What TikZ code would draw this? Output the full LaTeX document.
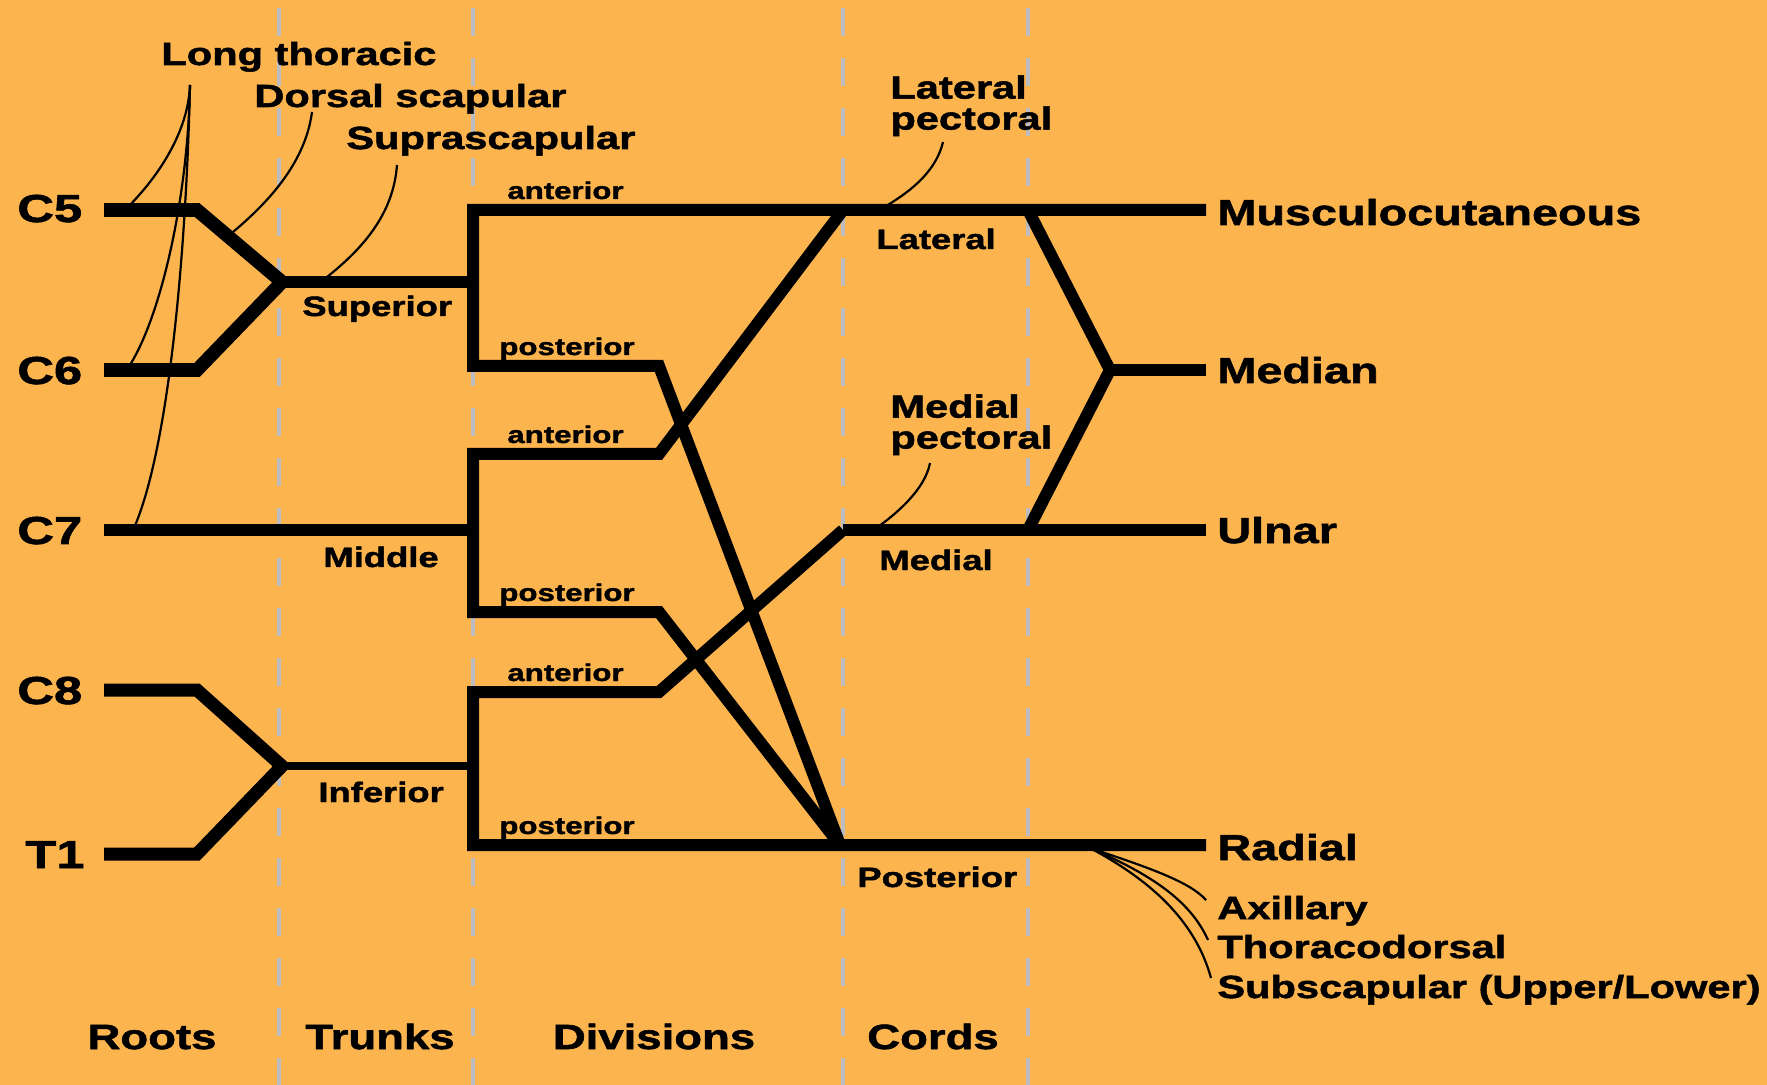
\documentclass[tikz,border=0pt]{standalone}
\usepackage{fontspec}
\setmainfont[FakeStretch=1.3, BoldFeatures={FakeBold=1.6}]{Liberation Sans}
\definecolor{bg}{RGB}{252,180,78}
\definecolor{guidegray}{RGB}{188,188,192}
\begin{document}
\begin{tikzpicture}[x=0.5pt,y=-0.5pt,
  nerve/.style={line width=6pt, line join=miter, line cap=butt},
  twig/.style={line width=1.1pt},
  guide/.style={draw=guidegray, line width=1.6pt, dash pattern=on 14pt off 11pt},
  lbl/.style={anchor=base west, inner sep=0pt},
  rootlbl/.style={lbl, font=\fontsize{19.5}{20}\selectfont\bfseries},
  endlbl/.style={lbl, font=\fontsize{18}{18}\selectfont\bfseries},
  brlbl/.style={lbl, font=\fontsize{16}{15.5}\selectfont\bfseries},
  trlbl/.style={lbl, font=\fontsize{14}{14}\selectfont\bfseries},
  dvlbl/.style={lbl, font=\fontsize{12}{12}\selectfont\bfseries},
  collbl/.style={anchor=base, inner sep=0pt, font=\fontsize{17.5}{18}\selectfont\bfseries}
]
\fill[bg] (0,0) rectangle (1767,1085);
\useasboundingbox (0,0) rectangle (1767,1085);

% column guides
\draw[guide] (279,8) -- (279,1085);
\draw[guide] (473,8) -- (473,1085);
\draw[guide] (843,8) -- (843,1085);
\draw[guide] (1028,8) -- (1028,1085);

% key points
\coordinate (c5a) at (104,210); \coordinate (c5b) at (197,210);
\coordinate (c6a) at (104,370); \coordinate (c6b) at (197,370);
\coordinate (jsup) at (282,282); \coordinate (dsup) at (473,282);
\coordinate (c7a) at (104,530); \coordinate (dmid) at (473,530);
\coordinate (c8a) at (104,690); \coordinate (c8b) at (197,690);
\coordinate (t1a) at (104,854); \coordinate (t1b) at (197,854);
\coordinate (jinf) at (282,766); \coordinate (dinf) at (473,766);
\coordinate (lat) at (843,210); \coordinate (med) at (843,530); \coordinate (post) at (840,845);
\coordinate (jmed) at (1110,370);
\coordinate (latm) at (1028,210); \coordinate (medm) at (1028,530);
\coordinate (endMC) at (1206,210); \coordinate (endMe) at (1206,370);
\coordinate (endU) at (1206,530); \coordinate (endR) at (1206,845);

% roots and trunks
\draw[nerve, line width=6.8pt] (c5a) -- (c5b) -- (jsup) -- (c6b) -- (c6a);
\draw[nerve] (jsup) -- (dsup);
\draw[nerve] (c7a) -- (dmid);
\draw[nerve, line width=6.5pt] (c8a) -- (c8b) -- (jinf) -- (t1b) -- (t1a);
\draw[nerve, line width=4.3pt] (jinf) -- (dinf);

% divisions
\draw[nerve] (endMC) -- (473,210) -- (473,366) -- (659,366) -- (post);
\draw[nerve] (lat) -- (659,454) -- (473,454) -- (473,612) -- (659,612) -- (post);
\draw[nerve] (med) -- (659,692) -- (473,692) -- (473,845) -- (endR);
\draw[nerve] (med) -- (endU);
\draw[nerve] (latm) -- (jmed) -- (medm);
\draw[nerve] (jmed) -- (endMe);

% small branches
\coordinate (ltO) at (190,85);
\draw[twig] (ltO) .. controls (188,135) and (155,180) .. (127,208);
\draw[twig] (ltO) .. controls (188,200) and (160,320) .. (128,368);
\draw[twig] (ltO) .. controls (186,260) and (168,450) .. (134,528);
\draw[twig] (312,112) .. controls (305,165) and (265,205) .. (233,232);
\draw[twig] (397,165) .. controls (393,220) and (355,255) .. (322,281);
\draw[twig] (943,142) .. controls (935,175) and (905,195) .. (881,209);
\draw[twig] (930,463) .. controls (925,490) and (895,515) .. (875,529);
\coordinate (rb) at (1090,848);
\draw[twig] (rb) .. controls (1150,868) and (1190,882) .. (1206,900);
\draw[twig] (rb) .. controls (1150,874) and (1190,900) .. (1208,940);
\draw[twig] (rb) .. controls (1150,880) and (1195,920) .. (1211,978);

% root labels
\node[rootlbl] (C5) at (17,222) {C5};
\node[rootlbl] (C6) at (17,384) {C6};
\node[rootlbl] (C7) at (17,544) {C7};
\node[rootlbl] (C8) at (17,704) {C8};
\node[rootlbl] (T1) at (25,868) {T1};

% branch labels
\node[brlbl] (longth) at (161,65) {Long thoracic};
\node[brlbl] (dorsal) at (254,107) {Dorsal scapular};
\node[brlbl] (supra) at (346,149) {Suprascapular};
\node[brlbl, anchor=north west, align=left] (latpec) at (890,75) {Lateral\\pectoral};
\node[brlbl, anchor=north west, align=left] (medpec) at (890,394) {Medial\\pectoral};

% trunk labels
\node[trlbl] (sup) at (302,316) {Superior};
\node[trlbl] (mid) at (323,567) {Middle};
\node[trlbl] (inf) at (318,802) {Inferior};

% division labels
\node[dvlbl] (a1) at (507,199) {anterior};
\node[dvlbl] (p1) at (499,355) {posterior};
\node[dvlbl] (a2) at (507,443) {anterior};
\node[dvlbl] (p2) at (499,601) {posterior};
\node[dvlbl] (a3) at (507,681) {anterior};
\node[dvlbl] (p3) at (499,834) {posterior};

% cord labels
\node[trlbl] (latl) at (876,249) {Lateral};
\node[trlbl] (medl) at (879,570) {Medial};
\node[trlbl] (postl) at (857,887) {Posterior};

% terminal labels
\node[endlbl] (mc) at (1217,225) {Musculocutaneous};
\node[endlbl] (me) at (1217,383) {Median};
\node[endlbl] (ul) at (1217,543) {Ulnar};
\node[endlbl] (ra) at (1217,860) {Radial};
\node[brlbl] (ax) at (1217,919) {Axillary};
\node[brlbl] (th) at (1217,958) {Thoracodorsal};
\node[brlbl] (ss) at (1217,998) {Subscapular (Upper/Lower)};

% column labels
\node[collbl] (roots) at (152,1049) {Roots};
\node[collbl] (trunks) at (380,1049) {Trunks};
\node[collbl] (divs) at (654,1049) {Divisions};
\node[collbl] (cords) at (933,1049) {Cords};
\end{tikzpicture}
\end{document}
